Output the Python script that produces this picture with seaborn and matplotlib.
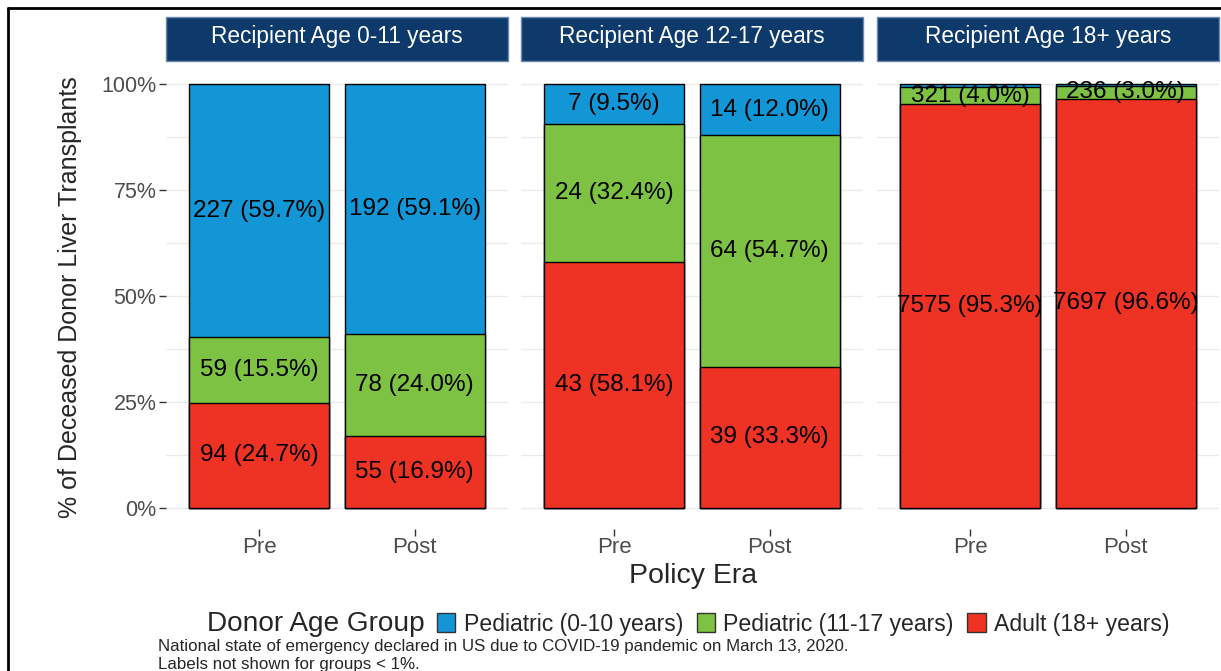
import matplotlib
matplotlib.use("Agg")
import matplotlib.pyplot as plt
from matplotlib.patches import Patch, Rectangle
from matplotlib.lines import Line2D
import pandas as pd
import seaborn as sns

recipient_ages = ["0-11 years", "12-17 years", "18+ years"]
eras = ["Pre", "Post"]
donor_groups = ["Pediatric (0-10 years)", "Pediatric (11-17 years)", "Adult (18+ years)"]
group_colors = ["#1396D5", "#7DC242", "#EE3324"]

# transplant counts per recipient age group, [Pre, Post]
ped_0_10 = [[227, 192], [7, 14], [52, 35]]
ped_11_17 = [[59, 78], [24, 64], [321, 236]]
adult = [[94, 55], [43, 39], [7575, 7697]]

W, H = 1221, 671

sns.set_style("white")
plt.rcParams["font.family"] = ["Liberation Sans", "DejaVu Sans"]

# long table with percentages and stacked positions (adult at the bottom)
rows = []
for a, age in enumerate(recipient_ages):
    for e, era in enumerate(eras):
        counts = [ped_0_10[a][e], ped_11_17[a][e], adult[a][e]]
        total = sum(counts)
        base = 0.0
        for g in [2, 1, 0]:
            pct = counts[g] / total * 100
            rows.append(dict(age=age, era=era, group=donor_groups[g], n=counts[g],
                             pct=pct, bottom=base, top=base + pct))
            base += pct
df = pd.DataFrame(rows)

fig = plt.figure(figsize=(W / 100, H / 100), dpi=100)

panel_left = [166, 521, 877]
panel_w = 342
ax_bottom = (H - 529) / H
ax_height = 466 / H

for p, age in enumerate(recipient_ages):
    ax = fig.add_axes([panel_left[p] / W, ax_bottom, panel_w / W, ax_height])
    sub = df[df["age"] == age]
    # draw cumulative bars back to front so they look stacked
    for g, color in zip(donor_groups, group_colors):
        sns.barplot(data=sub[sub["group"] == g], x="era", y="top", order=eras,
                    color=color, saturation=1, width=0.9, errorbar=None,
                    edgecolor="black", linewidth=1, ax=ax)
    for _, r in sub.iterrows():
        if r["pct"] >= 1:
            ax.text(eras.index(r["era"]), (r["bottom"] + r["top"]) / 2,
                    f"{r['n']} ({r['pct']:.1f}%)", ha="center", va="center",
                    fontsize=17.5, color="black")

    ax.set_xlim(-0.6, 1.6)
    ax.set_ylim(-5, 105)
    ax.set_yticks([0, 25, 50, 75, 100])
    ax.set_yticks([12.5, 37.5, 62.5, 87.5], minor=True)
    ax.grid(axis="y", which="both", color="#EBEBEB", lw=1)
    ax.grid(axis="x", visible=False)
    ax.set_axisbelow(True)
    for s in ax.spines.values():
        s.set_visible(False)
    ax.set_xlabel("")
    ax.set_ylabel("")
    ax.tick_params(axis="x", length=5, width=1, color="#333333", labelsize=16,
                   labelcolor="#4D4D4D", pad=1, bottom=True)
    ax.tick_params(axis="y", which="minor", length=0)
    if p == 0:
        ax.set_yticklabels(["0%", "25%", "50%", "75%", "100%"])
        ax.tick_params(axis="y", length=5, width=1, color="#333333", labelsize=15.5,
                       labelcolor="#4D4D4D", pad=2, left=True)
    else:
        ax.tick_params(axis="y", length=0, labelleft=False)

    # facet strip
    ax.add_patch(Rectangle((0, (529 - 61) / 466), 1, 44 / 466, transform=ax.transAxes,
                           facecolor="#0E3A6B", edgecolor="#6C88AA", lw=1, clip_on=False))
    ax.text(0.5, (529 - 37) / 466, f"Recipient Age {age}", transform=ax.transAxes,
            ha="center", va="center", color="white", fontsize=16.3)

fig.text(70 / W, (H - 297) / H, "% of Deceased Donor Liver Transplants",
         rotation=90, ha="center", va="center", fontsize=18)
fig.text(693 / W, (H - 576) / H, "Policy Era", ha="center", va="center", fontsize=20.5)

fig.text(207 / W, (H - 624) / H, "Donor Age Group", ha="left", va="center", fontsize=20.2)
handles = [Patch(facecolor=c, edgecolor="#333333", lw=1) for c in group_colors]
fig.legend(handles, donor_groups, loc="center left", bbox_to_anchor=(437 / W, (H - 624) / H),
           ncol=3, frameon=False, fontsize=16.6, handlelength=0.8, handleheight=0.9,
           handletextpad=0.35, columnspacing=0.6, borderpad=0, borderaxespad=0)

fig.text(158 / W, (H - 647) / H,
         "National state of emergency declared in US due to COVID-19 pandemic on March 13, 2020.",
         ha="left", va="center", fontsize=12.2)
fig.text(158 / W, (H - 664) / H, "Labels not shown for groups < 1%.",
         ha="left", va="center", fontsize=12.2)

# outer frame of the slide
fig.add_artist(Line2D([8 / W, 1], [1 - 8 / H, 1 - 8 / H], color="black", lw=2))
fig.add_artist(Line2D([8 / W, 8 / W], [0, 1 - 8 / H], color="black", lw=2))

fig.savefig("out.png", dpi=100)
